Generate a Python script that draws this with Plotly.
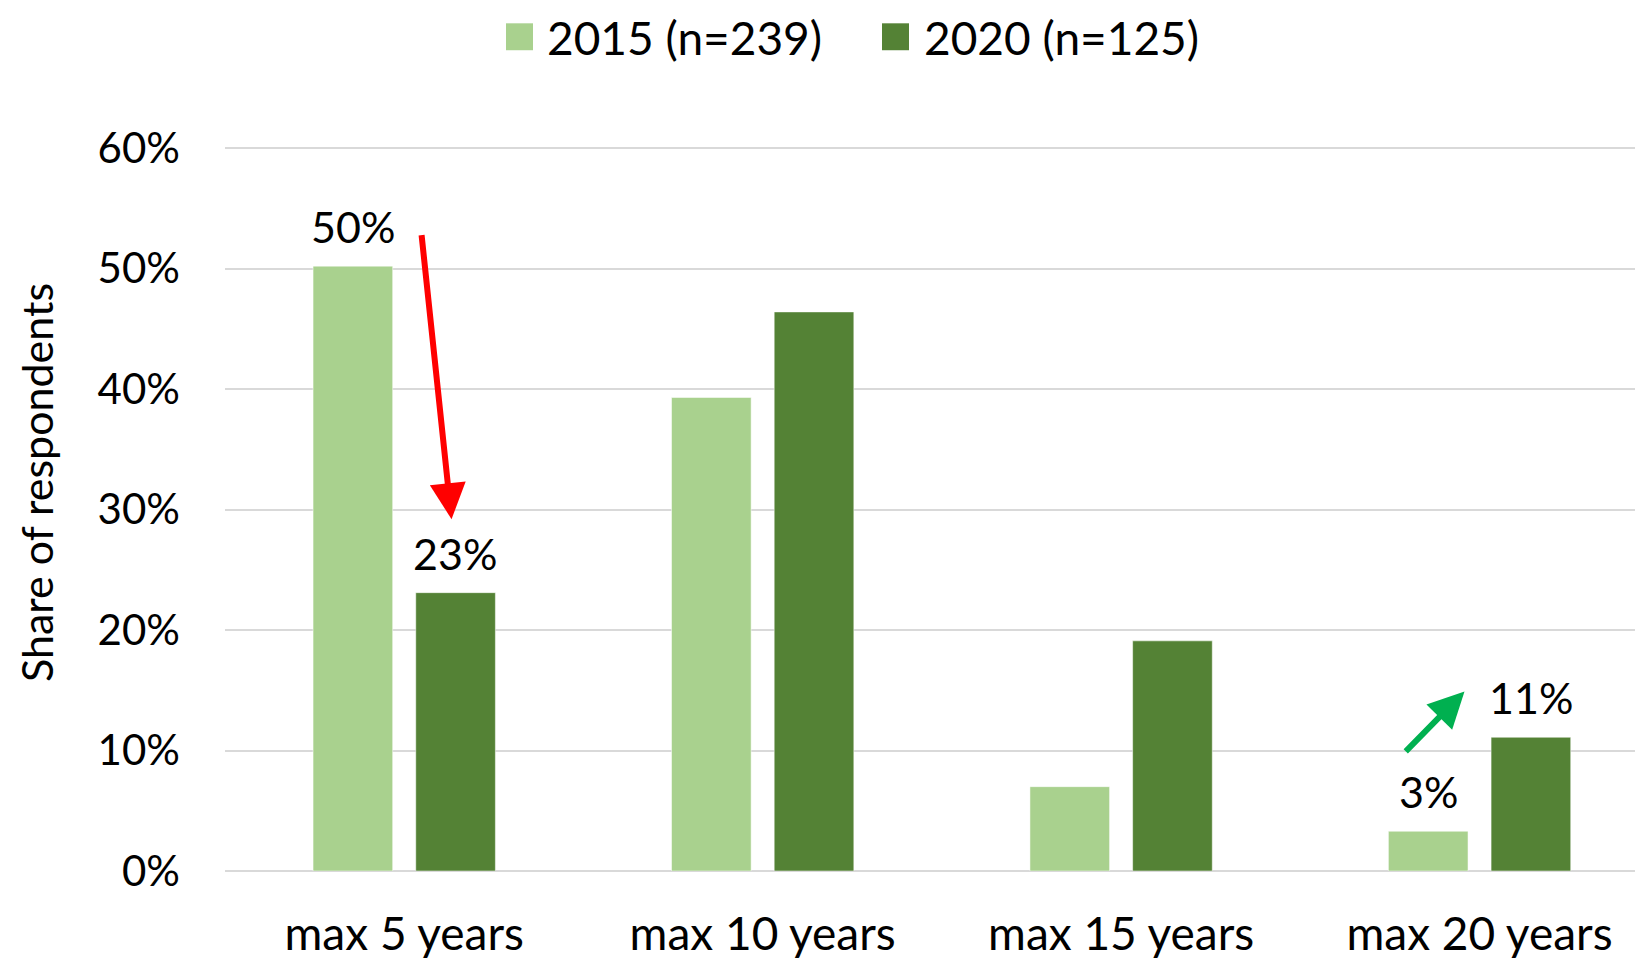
import plotly.graph_objects as go

# ---------------------------------------------------------------------------
# Dados
# ---------------------------------------------------------------------------
CATEGORIES = ["max 5 years", "max 10 years", "max 15 years", "max 20 years"]
SHARE_2015 = [50.2, 39.3, 7.0, 3.3]
SHARE_2020 = [23.1, 46.4, 19.1, 11.1]
SERIES_NAMES = ["2015 (n=239)", "2020 (n=125)"]
LABELLED = [0, 3]          # categorias com rótulo de valor
Y_TICKS = [0, 10, 20, 30, 40, 50, 60]

LIGHT = "#A9D18E"
DARK = "#548235"
FONT = "Lato, 'Open Sans', sans-serif"
GRID = "#D9D9D9"

# a página html tem 8px de margem no body
PAGE_OFF = 8
W, H = 1643, 960
M_L, M_R, M_T, M_B = 217, 8, 128, 95
PLOT_W = W - M_L - M_R
PLOT_H = H - M_T - M_B

fig = go.Figure()
for name, vals, color in [(SERIES_NAMES[0], SHARE_2015, LIGHT),
                          (SERIES_NAMES[1], SHARE_2020, DARK)]:
    fig.add_trace(go.Bar(
        x=CATEGORIES, y=vals, name=name,
        marker=dict(color=color, line=dict(color="rgba(255,255,255,0.5)", width=1)),
        showlegend=False,
    ))

fig.update_layout(
    width=W, height=H,
    margin=dict(l=M_L, r=M_R, t=M_T, b=M_B),
    plot_bgcolor="white", paper_bgcolor="white",
    font=dict(family=FONT, color="black", size=40),
    barmode="group",
    bargap=0.427,
    bargroupgap=0.2245,
)
fig.update_xaxes(
    range=[-0.5, 3.456],
    showgrid=False, showline=False, zeroline=False,
    tickfont=dict(size=46),
    ticklabelstandoff=32,
)
fig.update_yaxes(
    range=[0, 61],
    tickvals=Y_TICKS, ticktext=[f"{v}%" for v in Y_TICKS],
    showgrid=True, gridcolor=GRID, gridwidth=2,
    zeroline=True, zerolinecolor=GRID, zerolinewidth=2,
    tickfont=dict(size=42),
    ticklabelstandoff=44,
)

# rótulos de valor (apenas nas categorias destacadas)
offset_px = 51
for i in LABELLED:
    for vals, sign in [(SHARE_2015, -1), (SHARE_2020, 1)]:
        fig.add_annotation(
            x=CATEGORIES[i], y=vals[i], xref="x", yref="y",
            text=f"{vals[i]:.0f}%", showarrow=False,
            xshift=sign * offset_px, yshift=12, yanchor="bottom",
            font=dict(size=43),
        )

# setas de tendência
fig.add_annotation(
    x=0.132, y=29.2, ax=0.048, ay=52.9, xref="x", yref="y", axref="x", ayref="y",
    showarrow=True, arrowhead=2, arrowsize=1.2, arrowwidth=6, arrowcolor="#FF0000",
    standoff=0, text="",
)
fig.add_annotation(
    x=2.958, y=14.9, ax=2.790, ay=9.8, xref="x", yref="y", axref="x", ayref="y",
    showarrow=True, arrowhead=2, arrowsize=1.2, arrowwidth=6, arrowcolor="#00B050",
    standoff=0, text="",
)


def px_x(px):
    """posição horizontal na tela -> coordenada paper"""
    return (px - PAGE_OFF - M_L) / PLOT_W


def px_y(py):
    """posição vertical na tela -> coordenada paper"""
    return (H - M_B - (py - PAGE_OFF)) / PLOT_H


# título do eixo y
fig.add_annotation(
    x=px_x(36), y=px_y(484), xref="paper", yref="paper",
    text="Share of respondents", textangle=-90, showarrow=False,
    xanchor="center", yanchor="middle", font=dict(size=43),
    borderpad=0,
)

# legenda manual (quadrados grandes como no original)
for name, color, sx, tx in [(SERIES_NAMES[0], LIGHT, 506, 545),
                            (SERIES_NAMES[1], DARK, 882, 922)]:
    fig.add_shape(
        type="rect", xref="paper", yref="paper",
        x0=px_x(sx), x1=px_x(sx + 27), y0=px_y(50), y1=px_y(23),
        fillcolor=color, line=dict(width=0),
    )
    fig.add_annotation(
        x=px_x(tx), y=px_y(37), xref="paper", yref="paper",
        text=name, showarrow=False, xanchor="left", yanchor="middle",
        font=dict(size=46),
    )

fig.write_html("out.html")
